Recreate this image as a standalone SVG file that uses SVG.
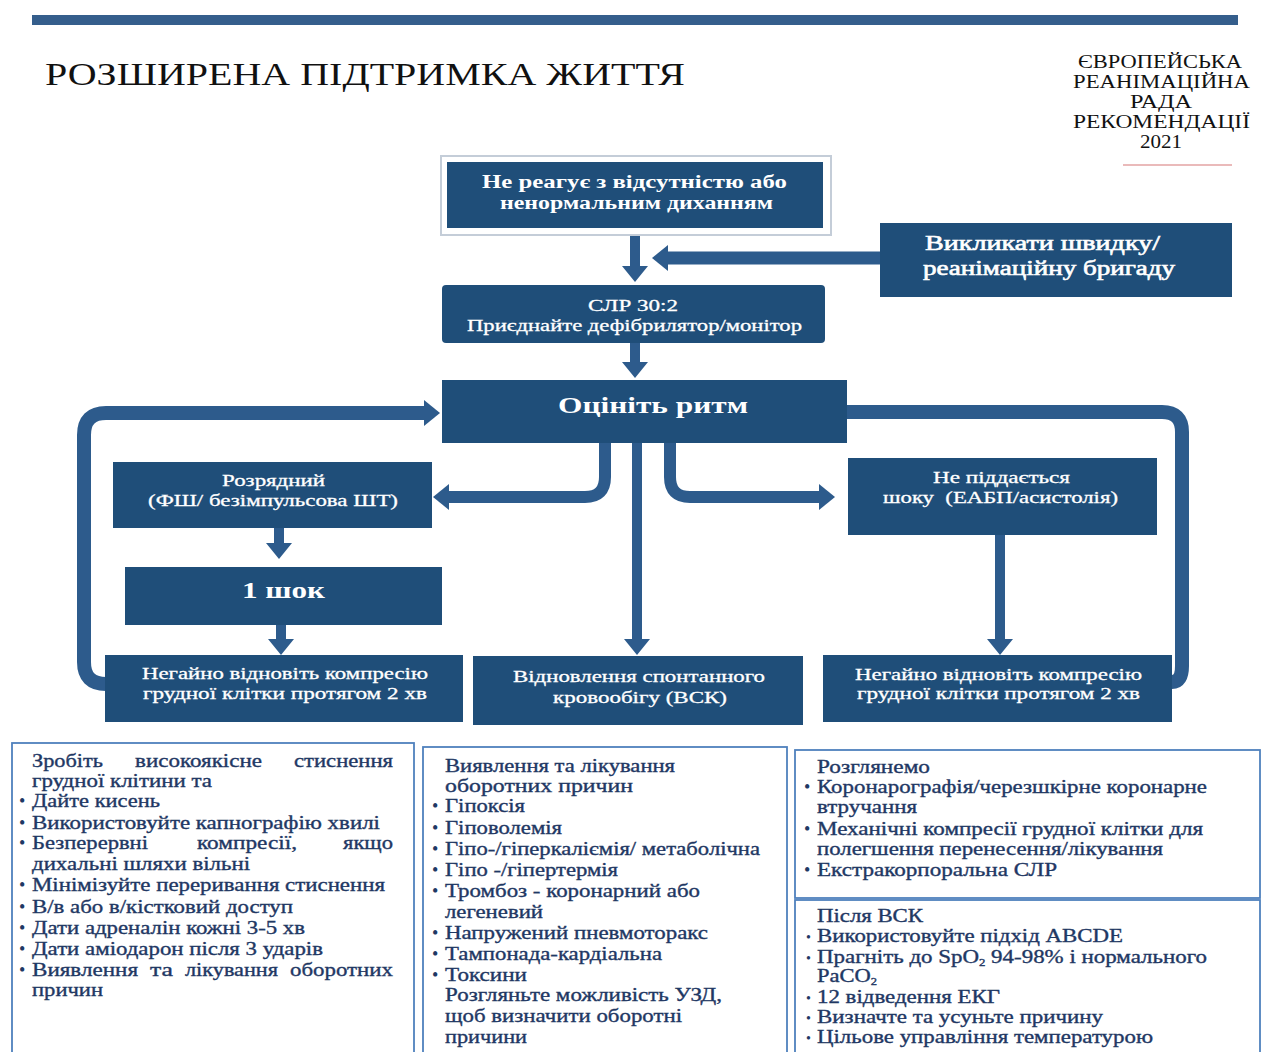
<svg xmlns="http://www.w3.org/2000/svg" width="1261" height="1052" viewBox="0 0 1261 1052">
<style>
.node{fill:#1f4e79}
.nt{font-family:"Liberation Serif","Times New Roman",serif;fill:#ffffff;font-size:17px;stroke:#ffffff;stroke-width:0.3}
.ntb{font-family:"Liberation Serif","Times New Roman",serif;fill:#ffffff;font-weight:bold}
.ntm{font-family:"Liberation Serif","Times New Roman",serif;fill:#ffffff;stroke:#ffffff;stroke-width:0.6}
.bt{font-family:"Liberation Serif","Times New Roman",serif;font-size:18px;fill:#1f3864;stroke:#1f3864;stroke-width:0.35}
.bul{font-family:"Liberation Serif","Times New Roman",serif;font-size:18px;fill:#1f3864}
.bs{font-family:"Liberation Serif","Times New Roman",serif;font-size:14px;fill:#1f3864}
.box{fill:none;stroke:#4f81bd;stroke-width:1.8}
.hd{font-family:"Liberation Serif","Times New Roman",serif;fill:#111111}
.c{fill:none;stroke:#2d5b8c;stroke-linejoin:round}
</style>
<defs>
<marker id="ah" markerUnits="userSpaceOnUse" markerWidth="16" markerHeight="26" viewBox="0 0 16 26" refX="2" refY="13" orient="auto">
<path d="M0,0 L16,13 L0,26 z" fill="#2d5b8c"/>
</marker>
</defs>
<rect width="1261" height="1052" fill="#ffffff"/>

<!-- header -->
<rect x="32" y="15" width="1206" height="10" fill="#355e8c"/>
<text class="hd" x="45" y="85" font-size="32" textLength="640" lengthAdjust="spacingAndGlyphs">РОЗШИРЕНА ПІДТРИМКА ЖИТТЯ</text>
<g id="erc">
<text class="hd" x="1078" y="68" font-size="19" textLength="164" lengthAdjust="spacingAndGlyphs">ЄВРОПЕЙСЬКА</text>
<text class="hd" x="1073" y="88" font-size="19" textLength="177" lengthAdjust="spacingAndGlyphs">РЕАНІМАЦІЙНА</text>
<text class="hd" x="1130" y="108" font-size="19" textLength="62" lengthAdjust="spacingAndGlyphs">РАДА</text>
<text class="hd" x="1073" y="128" font-size="19" textLength="177" lengthAdjust="spacingAndGlyphs">РЕКОМЕНДАЦІЇ</text>
<text class="hd" x="1140" y="148" font-size="19" textLength="42" lengthAdjust="spacingAndGlyphs">2021</text>
<line x1="1123" y1="165" x2="1232" y2="165" stroke="#e3a3a3" stroke-width="1.5"/>
</g>

<!-- connectors -->
<g id="connectors">
<path class="c" stroke-width="10" d="M635,228 V268" marker-end="url(#ah)"/>
<path class="c" stroke-width="13" d="M880,258 H666" marker-end="url(#ah)"/>
<path class="c" stroke-width="10" d="M635,343 V364" marker-end="url(#ah)"/>
<path class="c" stroke-width="12" d="M605,443 V477 Q605,497 585,497 H447" marker-end="url(#ah)"/>
<path class="c" stroke-width="12" d="M670,443 V477 Q670,497 690,497 H821" marker-end="url(#ah)"/>
<path class="c" stroke-width="10" d="M637,443 V641" marker-end="url(#ah)"/>
<path class="c" stroke-width="10" d="M279,528 V545" marker-end="url(#ah)"/>
<path class="c" stroke-width="10" d="M281,625 V641" marker-end="url(#ah)"/>
<path class="c" stroke-width="10" d="M1000,535 V641" marker-end="url(#ah)"/>
<path class="c" stroke-width="14" d="M106,684 Q84,684 84,662 V435 Q84,413 106,413 H426" marker-end="url(#ah)"/>
<path class="c" stroke-width="14" d="M1172,682 Q1182,682 1182,666 V432 Q1182,412 1162,412 H847"/>
</g>

<!-- nodes -->
<g id="n-unresponsive">
<rect x="441" y="156" width="390" height="79" fill="#ffffff" stroke="#c4cdd8" stroke-width="2"/>
<rect class="node" x="447" y="162" width="376" height="66"/>
<text class="ntb" font-size="18" x="482" y="188" textLength="305" lengthAdjust="spacingAndGlyphs">Не реагує з відсутністю або</text>
<text class="ntb" font-size="18" x="500" y="209" textLength="273" lengthAdjust="spacingAndGlyphs">ненормальним диханням</text>
</g>
<g id="n-call">
<rect class="node" x="880" y="223" width="352" height="74"/>
<text class="ntm" font-size="20" x="925" y="250" textLength="235" lengthAdjust="spacingAndGlyphs">Викликати швидку/</text>
<text class="ntm" font-size="20" x="923" y="275" textLength="252" lengthAdjust="spacingAndGlyphs">реанімаційну бригаду</text>
</g>
<g id="n-cpr">
<rect class="node" x="442" y="285" width="383" height="58" rx="4"/>
<text class="nt" x="588" y="311" textLength="90" lengthAdjust="spacingAndGlyphs">СЛР 30:2</text>
<text class="nt" x="467" y="331" textLength="335" lengthAdjust="spacingAndGlyphs">Приєднайте дефібрилятор/монітор</text>
</g>
<g id="n-rhythm">
<rect class="node" x="442" y="380" width="405" height="63"/>
<text class="ntb" font-size="24" x="558" y="413" textLength="190" lengthAdjust="spacingAndGlyphs">Оцініть ритм</text>
</g>
<g id="n-shockable">
<rect class="node" x="113" y="462" width="319" height="66"/>
<text class="nt" x="222" y="486" textLength="103" lengthAdjust="spacingAndGlyphs">Розрядний</text>
<text class="nt" x="148" y="506" textLength="250" lengthAdjust="spacingAndGlyphs">(ФШ/ безімпульсова ШТ)</text>
</g>
<g id="n-shock">
<rect class="node" x="125" y="567" width="317" height="58"/>
<text class="ntb" font-size="24" x="242" y="598" textLength="83" lengthAdjust="spacingAndGlyphs">1 шок</text>
</g>
<g id="n-resume-left">
<rect class="node" x="105" y="655" width="358" height="67"/>
<text class="nt" x="142" y="679" textLength="286" lengthAdjust="spacingAndGlyphs">Негайно відновіть компресію</text>
<text class="nt" x="143" y="699" textLength="284" lengthAdjust="spacingAndGlyphs">грудної клітки протягом 2 хв</text>
</g>
<g id="n-rosc">
<rect class="node" x="473" y="656" width="330" height="69"/>
<text class="nt" x="513" y="682" textLength="252" lengthAdjust="spacingAndGlyphs">Відновлення спонтанного</text>
<text class="nt" x="553" y="703" textLength="174" lengthAdjust="spacingAndGlyphs">кровообігу (ВСК)</text>
</g>
<g id="n-nonshockable">
<rect class="node" x="848" y="458" width="309" height="77"/>
<text class="nt" x="933" y="483" textLength="137" lengthAdjust="spacingAndGlyphs">Не піддається</text>
<text class="nt" x="883" y="503" textLength="235" lengthAdjust="spacingAndGlyphs" xml:space="preserve">шоку  (ЕАБП/асистолія)</text>
</g>
<g id="n-resume-right">
<rect class="node" x="823" y="655" width="349" height="67"/>
<text class="nt" x="855" y="680" textLength="287" lengthAdjust="spacingAndGlyphs">Негайно відновіть компресію</text>
<text class="nt" x="857" y="699" textLength="283" lengthAdjust="spacingAndGlyphs">грудної клітки протягом 2 хв</text>
</g>

<!-- bottom boxes -->
<g id="box-during-cpr">
<rect class="box" x="12" y="743" width="402" height="330"/>
<text class="bt" x="32" y="767" textLength="71" lengthAdjust="spacingAndGlyphs">Зробіть</text>
<text class="bt" x="135" y="767" textLength="127" lengthAdjust="spacingAndGlyphs">високоякісне</text>
<text class="bt" x="294" y="767" textLength="99" lengthAdjust="spacingAndGlyphs">стиснення</text>
<text class="bt" x="32" y="787" textLength="180" lengthAdjust="spacingAndGlyphs">грудної клітини та</text>
<text class="bul" x="19" y="807">•</text>
<text class="bt" x="32" y="807" textLength="128" lengthAdjust="spacingAndGlyphs">Дайте кисень</text>
<text class="bul" x="19" y="829">•</text>
<text class="bt" x="32" y="829" textLength="348" lengthAdjust="spacingAndGlyphs">Використовуйте капнографію хвилі</text>
<text class="bul" x="19" y="849">•</text>
<text class="bt" x="32" y="849" textLength="116" lengthAdjust="spacingAndGlyphs">Безперервні</text>
<text class="bt" x="197" y="849" textLength="100" lengthAdjust="spacingAndGlyphs">компресії,</text>
<text class="bt" x="343" y="849" textLength="50" lengthAdjust="spacingAndGlyphs">якщо</text>
<text class="bt" x="32" y="870" textLength="218" lengthAdjust="spacingAndGlyphs">дихальні шляхи вільні</text>
<text class="bul" x="19" y="891">•</text>
<text class="bt" x="32" y="891" textLength="353" lengthAdjust="spacingAndGlyphs">Мінімізуйте переривання стиснення</text>
<text class="bul" x="19" y="913">•</text>
<text class="bt" x="32" y="913" textLength="261" lengthAdjust="spacingAndGlyphs">В/в або в/кістковий доступ</text>
<text class="bul" x="19" y="934">•</text>
<text class="bt" x="32" y="934" textLength="273" lengthAdjust="spacingAndGlyphs">Дати адреналін кожні 3-5 хв</text>
<text class="bul" x="19" y="955">•</text>
<text class="bt" x="32" y="955" textLength="291" lengthAdjust="spacingAndGlyphs">Дати аміодарон після 3 ударів</text>
<text class="bul" x="19" y="976">•</text>
<text class="bt" x="32" y="976" textLength="106" lengthAdjust="spacingAndGlyphs">Виявлення</text>
<text class="bt" x="150" y="976" textLength="23" lengthAdjust="spacingAndGlyphs">та</text>
<text class="bt" x="185" y="976" textLength="93" lengthAdjust="spacingAndGlyphs">лікування</text>
<text class="bt" x="290" y="976" textLength="103" lengthAdjust="spacingAndGlyphs">оборотних</text>
<text class="bt" x="32" y="996" textLength="71" lengthAdjust="spacingAndGlyphs">причин</text>
</g>

<g id="box-reversible">
<rect class="box" x="423" y="747" width="364" height="330"/>
<text class="bt" x="445" y="772" textLength="230" lengthAdjust="spacingAndGlyphs">Виявлення та лікування</text>
<text class="bt" x="445" y="792" textLength="188" lengthAdjust="spacingAndGlyphs">оборотних причин</text>
<text class="bul" x="432" y="812">•</text>
<text class="bt" x="445" y="812" textLength="80" lengthAdjust="spacingAndGlyphs">Гіпоксія</text>
<text class="bul" x="432" y="834">•</text>
<text class="bt" x="445" y="834" textLength="117" lengthAdjust="spacingAndGlyphs">Гіповолемія</text>
<text class="bul" x="432" y="855">•</text>
<text class="bt" x="445" y="855" textLength="315" lengthAdjust="spacingAndGlyphs">Гіпо-/гіперкаліємія/ метаболічна</text>
<text class="bul" x="432" y="876">•</text>
<text class="bt" x="445" y="876" textLength="173" lengthAdjust="spacingAndGlyphs">Гіпо -/гіпертермія</text>
<text class="bul" x="432" y="897">•</text>
<text class="bt" x="445" y="897" textLength="255" lengthAdjust="spacingAndGlyphs">Тромбоз - коронарний або</text>
<text class="bt" x="445" y="918" textLength="98" lengthAdjust="spacingAndGlyphs">легеневий</text>
<text class="bul" x="432" y="939">•</text>
<text class="bt" x="445" y="939" textLength="263" lengthAdjust="spacingAndGlyphs">Напружений пневмоторакс</text>
<text class="bul" x="432" y="960">•</text>
<text class="bt" x="445" y="960" textLength="217" lengthAdjust="spacingAndGlyphs">Тампонада-кардіальна</text>
<text class="bul" x="432" y="981">•</text>
<text class="bt" x="445" y="981" textLength="82" lengthAdjust="spacingAndGlyphs">Токсини</text>
<text class="bt" x="445" y="1001" textLength="277" lengthAdjust="spacingAndGlyphs">Розгляньте можливість УЗД,</text>
<text class="bt" x="445" y="1022" textLength="237" lengthAdjust="spacingAndGlyphs">щоб визначити оборотні</text>
<text class="bt" x="445" y="1043" textLength="82" lengthAdjust="spacingAndGlyphs">причини</text>
</g>

<g id="box-consider">
<rect class="box" x="795" y="750" width="465" height="148"/>
<text class="bt" x="817" y="773" textLength="113" lengthAdjust="spacingAndGlyphs">Розглянемо</text>
<text class="bul" x="804" y="793">•</text>
<text class="bt" x="817" y="793" textLength="390" lengthAdjust="spacingAndGlyphs">Коронарографія/черезшкірне коронарне</text>
<text class="bt" x="817" y="813" textLength="100" lengthAdjust="spacingAndGlyphs">втручання</text>
<text class="bul" x="804" y="835">•</text>
<text class="bt" x="817" y="835" textLength="386" lengthAdjust="spacingAndGlyphs">Механічні компресії грудної клітки для</text>
<text class="bt" x="817" y="855" textLength="346" lengthAdjust="spacingAndGlyphs">полегшення перенесення/лікування</text>
<text class="bul" x="804" y="876">•</text>
<text class="bt" x="817" y="876" textLength="240" lengthAdjust="spacingAndGlyphs">Екстракорпоральна СЛР</text>
</g>

<g id="box-post-rosc">
<rect class="box" x="795" y="900" width="465" height="170"/>
<text class="bt" x="817" y="922" textLength="106" lengthAdjust="spacingAndGlyphs">Після ВСК</text>
<text class="bs" x="806" y="942">•</text>
<text class="bt" x="817" y="942" textLength="306" lengthAdjust="spacingAndGlyphs">Використовуйте підхід ABCDE</text>
<text class="bs" x="806" y="963">•</text>
<text class="bt" x="817" y="963" textLength="390" lengthAdjust="spacingAndGlyphs">Прагніть до SpO<tspan font-size="10" dy="3">2</tspan><tspan dy="-3"> 94-98% і нормального</tspan></text>
<text class="bt" x="817" y="982" textLength="60" lengthAdjust="spacingAndGlyphs">PaCO<tspan font-size="10" dy="3">2</tspan></text>
<text class="bs" x="806" y="1003">•</text>
<text class="bt" x="817" y="1003" textLength="183" lengthAdjust="spacingAndGlyphs">12 відведення ЕКГ</text>
<text class="bs" x="806" y="1023">•</text>
<text class="bt" x="817" y="1023" textLength="286" lengthAdjust="spacingAndGlyphs">Визначте та усуньте причину</text>
<text class="bs" x="806" y="1043">•</text>
<text class="bt" x="817" y="1043" textLength="336" lengthAdjust="spacingAndGlyphs">Цільове управління температурою</text>
</g>
</svg>
